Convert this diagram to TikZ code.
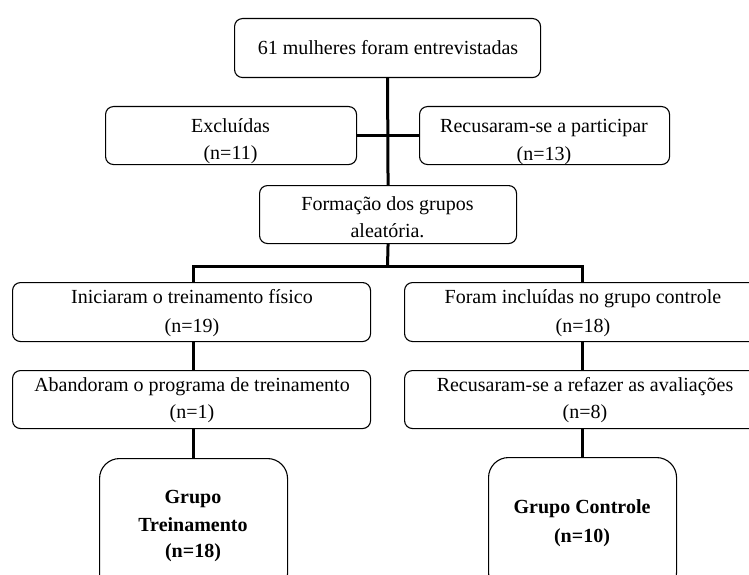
\documentclass[tikz,border=0pt]{standalone}
\usepackage{fontspec}
\setmainfont{Liberation Serif}
\begin{document}
\begin{tikzpicture}[x=1pt,y=-1pt,
  box/.style={draw,line width=1.1pt,rounded corners=8pt,anchor=north west,inner sep=0pt},
  bigbox/.style={box,rounded corners=20pt},
  txt/.style={anchor=base,inner sep=0pt,font=\fontsize{20}{27}\selectfont},
  btxt/.style={txt,font=\fontsize{20}{27}\selectfont\bfseries},
  conn/.style={line width=3pt}]
\useasboundingbox (0,0) rectangle (749,575);
\clip (0,0) rectangle (749,575);
% boxes
\node[box,minimum width=306pt,minimum height=59pt] (b1) at (234,18) {};
\node[box,minimum width=251pt,minimum height=58pt] (excl) at (105,106) {};
\node[box,minimum width=250pt,minimum height=58pt] (recus) at (419,106) {};
\node[box,minimum width=257pt,minimum height=58pt] (form) at (259,185) {};
\node[box,minimum width=358pt,minimum height=59pt] (ini) at (12,282) {};
\node[box,minimum width=356pt,minimum height=59pt] (foram) at (404,282) {};
\node[box,minimum width=358pt,minimum height=58pt] (aband) at (12,370) {};
\node[box,minimum width=356pt,minimum height=58pt] (recus2) at (404,370) {};
\node[bigbox,minimum width=188pt,minimum height=135pt] (gt) at (99,458) {};
\node[bigbox,minimum width=188pt,minimum height=135pt] (gc) at (488,457) {};
% texts
\node[txt] (t1) at (388,55) {61 mulheres foram entrevistadas};
\node[txt] (te1) at (230.5,132) {Excluídas};
\node[txt] (te2) at (230.5,159) {(n=11)};
\node[txt] (tr1) at (544,132) {Recusaram-se a participar};
\node[txt] (tr2) at (544,160) {(n=13)};
\node[txt] (tf1) at (387.5,210) {Formação dos grupos};
\node[txt] (tf2) at (387.5,237) {aleatória.};
\node[txt] (ti1) at (192,303) {Iniciaram o treinamento físico};
\node[txt] (ti2) at (192,332) {(n=19)};
\node[txt] (tc1) at (583,303) {Foram incluídas no grupo controle};
\node[txt] (tc2) at (583,332) {(n=18)};
\node[txt] (ta1) at (192,391) {Abandoram o programa de treinamento};
\node[txt] (ta2) at (192,418) {(n=1)};
\node[txt] (tv1) at (585,391) {Recusaram-se a refazer as avaliações};
\node[txt] (tv2) at (585,418) {(n=8)};
\node[btxt] (tg1) at (193,503) {Grupo};
\node[btxt] (tg2) at (193,531) {Treinamento};
\node[btxt] (tg3) at (193,557) {(n=18)};
\node[btxt] (tk1) at (582,513) {Grupo Controle};
\node[btxt] (tk2) at (582,542) {(n=10)};
% connectors
\draw[conn] (b1.south) -- (form.north);
\draw[conn] (excl.east) -- (recus.west);
\coordinate (hs) at (387.5,266);
\draw[conn] (form.south) -- (hs);
\draw[conn] (ini.north -| gt.north) |- (hs) -| (foram.north);
\draw[conn] (ini.south -| gt.north) -- (aband.north -| gt.north);
\draw[conn] (foram.south) -- (recus2.north);
\draw[conn] (aband.south -| gt.north) -- (gt.north);
\draw[conn] (recus2.south) -- (gc.north);
\end{tikzpicture}
\end{document}
